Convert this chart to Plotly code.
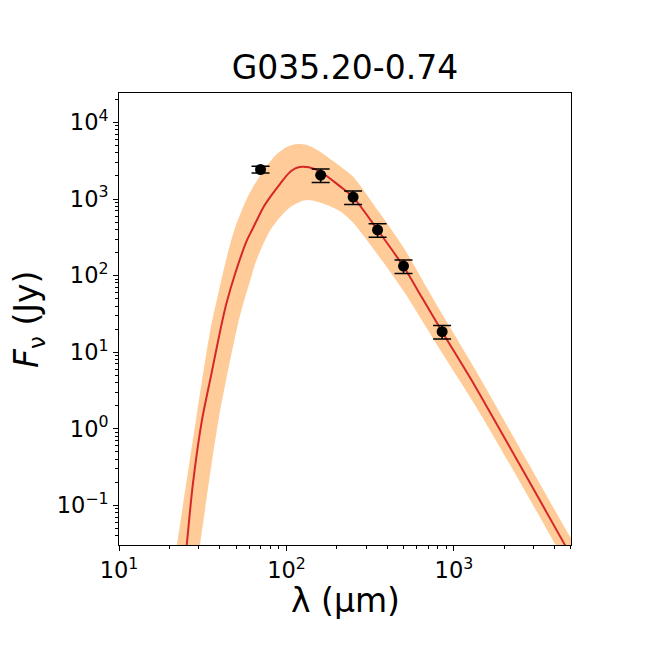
import plotly.graph_objects as go

# SED of G035.20-0.74: photometry points with errors, greybody fit and its uncertainty band

# observed fluxes
wavelength = [70, 160, 250, 350, 500, 850]          # micron
flux = [2430, 2050, 1060, 395, 133, 18.5]           # Jy
flux_err = [243, 410, 212, 79, 26.6, 3.7]           # Jy

# best-fit model curve
fit_lam = [24.0, 25.4, 27.5, 31.3, 35.5, 40.3, 43.7, 49.5, 58.2, 62.3, 73.1, 80.2, 92.1,
           103, 113, 124, 136, 160, 210, 250, 350, 500, 643, 850, 1324, 2350, 4570, 6000]
fit_flux = [0.01, 0.031, 0.175, 1.30, 5.0, 19.5, 42.4, 108, 292, 394, 793, 1072, 1603,
            2164, 2515, 2642, 2594, 2270, 1450, 1060, 395, 131, 52, 18.5, 3.73, 0.41,
            0.031, 0.0105]

# upper and lower edge of the shaded range
upper_lam = [20.4, 22.2, 28.8, 35.1, 38.8, 43.1, 48.8, 58.7, 68.3, 78.3, 88, 101, 116,
             133, 153, 175, 211, 250, 350, 500, 643, 850, 1324, 2350, 4570, 6000]
upper_flux = [0.01, 0.031, 1.30, 19.5, 53.1, 145, 394, 1072, 1900, 2924, 3900, 4820, 5224,
              5070, 4365, 3565, 2642, 1954, 719, 233, 90.4, 31.4, 6.19, 0.681, 0.0514, 0.0174]
lower_lam = [28.3, 30.5, 39.3, 51.2, 56.8, 60.9, 65.2, 71.5, 80.2, 92.1, 106, 121, 133,
             153, 175, 211, 250, 350, 500, 643, 850, 1324, 2350, 4570, 6000]
lower_flux = [0.01, 0.031, 1.30, 22.6, 53.1, 87.7, 145, 238, 394, 587, 793, 923, 970,
              923, 835, 682, 491, 189, 62.7, 26.1, 9.7, 2.10, 0.247, 0.0187, 0.0063]

# tick labels
x_tickvals = [10, 100, 1000]
x_ticktext = ["10<sup>1</sup>", "10<sup>2</sup>", "10<sup>3</sup>"]
y_tickvals = [0.1, 1, 10, 100, 1000, 10000]
y_ticktext = ["10<sup>\u22121</sup>", "10<sup>0</sup>", "10<sup>1</sup>",
              "10<sup>2</sup>", "10<sup>3</sup>", "10<sup>4</sup>"]

font_family = "DejaVu Sans"

fig = go.Figure()

# shaded band: upper edge then lower edge backwards
fig.add_trace(go.Scatter(
    x=upper_lam + lower_lam[::-1],
    y=upper_flux + lower_flux[::-1],
    fill="toself",
    fillcolor="#ffcc99",
    line=dict(width=0, shape="spline", smoothing=0.8),
    mode="lines",
    hoverinfo="skip",
    showlegend=False,
))

# fit curve
fig.add_trace(go.Scatter(
    x=fit_lam, y=fit_flux,
    mode="lines",
    line=dict(color="#d62728", width=2, shape="spline", smoothing=0.8),
    showlegend=False,
))

# data points
fig.add_trace(go.Scatter(
    x=wavelength, y=flux,
    mode="markers",
    marker=dict(color="black", size=11),
    error_y=dict(type="data", array=flux_err, color="black", thickness=1.5, width=9),
    showlegend=False,
))

minor_x = [m * 10 ** d for d in range(1, 4) for m in range(2, 10)]
minor_y = [m * 10 ** d for d in range(-2, 5) for m in range(2, 10)]

axis_style = dict(
    type="log",
    showline=True, linecolor="black", linewidth=1, mirror=True,
    ticks="outside", ticklen=5, tickwidth=1, tickcolor="black",
    showgrid=False, zeroline=False,
    tickmode="array",
    tickfont=dict(family=font_family, size=22.5, color="black"),
)

fig.update_xaxes(
    **axis_style,
    range=[1, 3.699],
    tickvals=x_tickvals, ticktext=x_ticktext,
    minor=dict(ticks="outside", ticklen=3, tickwidth=0.8, tickcolor="black",
               tickmode="array", tickvals=minor_x, showgrid=False),
)
fig.update_yaxes(
    **axis_style,
    range=[-1.52, 4.385],
    tickvals=y_tickvals, ticktext=y_ticktext,
    minor=dict(ticks="outside", ticklen=3, tickwidth=0.8, tickcolor="black",
               tickmode="array", tickvals=minor_y, showgrid=False),
)

# the page body adds an 8 px offset, so margins are shifted to compensate
fig.update_layout(
    width=664, height=664, autosize=False,
    margin=dict(l=111, r=101, t=85, b=127),
    plot_bgcolor="white", paper_bgcolor="white",
    font=dict(family=font_family, color="black"),
    title=dict(text="G035.20-0.74", x=0.5, xref="paper", y=1 - 59 / 664,
               yref="container", yanchor="middle",
               font=dict(family=font_family, size=33, color="black")),
    annotations=[
        dict(text="\u03bb (\u03bcm)", xref="paper", yref="paper", x=0.5, y=-0.1225,
             xanchor="center", yanchor="middle", showarrow=False,
             font=dict(family=font_family, size=33, color="black")),
        dict(text="<i>F</i><sub>\u03bd</sub> (Jy)", xref="paper", yref="paper",
             x=-0.2015, y=0.5, textangle=-90, xanchor="center", yanchor="middle",
             showarrow=False, font=dict(family=font_family, size=33, color="black")),
    ],
)

fig.write_html("out.html")
